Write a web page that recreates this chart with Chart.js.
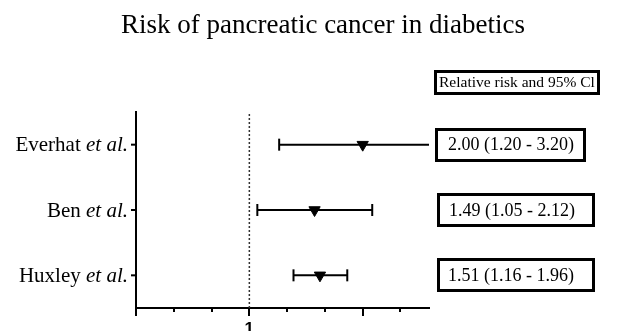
<!DOCTYPE html>
<html>
<head>
<meta charset="utf-8">
<script src="https://cdn.jsdelivr.net/npm/chart.js@4.4.0/dist/chart.umd.min.js"></script>
<style>
  html, body { margin: 0; padding: 0; background: #fff; }
  #wrap { width: 618px; height: 331px; position: relative; }
</style>
</head>
<body>
<div id="wrap"><canvas id="forest_plot"></canvas></div>
<script>
// study rows, top to bottom
var studies = ['Everhat', 'Ben', 'Huxley'];
var rowPos = [3, 2, 1];
// marks as drawn in the picture (log x axis)
var relRisk = [2.00, 1.49, 1.54];
var ciLow = [1.20, 1.05, 1.31];
var ciHigh = [3.20, 2.12, 1.82];
// text in the boxes
var ciText = ['2.00 (1.20 - 3.20)', '1.49 (1.05 - 2.12)', '1.51 (1.16 - 1.96)'];
var headerText = 'Relative risk and 95% Cl';
var titleText = 'Risk of pancreatic cancer in diabetics';
// x axis ticks
var xTicks = [0.5, 0.63, 0.794, 1, 1.26, 1.587, 2, 2.52];
var xMajorTicks = [0.5, 1, 2];
var xTickLabels = ['1'];
var xLabelValues = [1];

var serif = '"Liberation Serif", "Times New Roman", serif';

var datasets = [];
// reference line at RR = 1
datasets.push({
    type: 'line',
    data: [{x: 1, y: 0.5}, {x: 1, y: 3.5}],
    borderColor: '#333',
    borderWidth: 1.5,
    borderDash: [2, 2],
    pointRadius: 0
});
// error bars with caps
studies.forEach(function (s, i) {
    datasets.push({
        type: 'line',
        data: [{x: ciLow[i], y: rowPos[i]}, {x: ciHigh[i], y: rowPos[i]}],
        borderColor: '#000',
        borderWidth: 2,
        pointStyle: 'line',
        rotation: 90,
        pointRadius: 6,
        pointBorderWidth: 2,
        pointBorderColor: '#000'
    });
});
// point estimates
datasets.push({
    type: 'scatter',
    data: studies.map(function (s, i) { return {x: relRisk[i], y: rowPos[i]}; }),
    pointStyle: 'triangle',
    rotation: 180,
    pointRadius: 6.5,
    backgroundColor: '#000',
    borderColor: '#000',
    borderWidth: 1
});

// text, ticks and boxes around the plot
var decor = {
    id: 'decor',
    afterDraw: function (chart) {
        var ctx = chart.ctx;
        var xs = chart.scales.x, ys = chart.scales.y;
        ctx.save();
        ctx.fillStyle = '#000';
        ctx.strokeStyle = '#000';

        // title
        ctx.font = '27px ' + serif;
        ctx.textAlign = 'center';
        ctx.textBaseline = 'alphabetic';
        ctx.fillText(titleText, 323, 33);

        // y labels with italic "et al."
        studies.forEach(function (s, i) {
            var y = ys.getPixelForValue(rowPos[i]);
            ctx.font = '21px ' + serif;
            var w1 = ctx.measureText(s + ' ').width;
            ctx.font = 'italic 21px ' + serif;
            var w2 = ctx.measureText('et al.').width;
            var x0 = chart.chartArea.left - 8 - w1 - w2;
            ctx.textAlign = 'left';
            ctx.textBaseline = 'middle';
            ctx.font = '21px ' + serif;
            ctx.fillText(s + ' ', x0, y + 1);
            ctx.font = 'italic 21px ' + serif;
            ctx.fillText('et al.', x0 + w1, y + 1);
            // y tick
            ctx.lineWidth = 2;
            ctx.beginPath();
            ctx.moveTo(chart.chartArea.left - 5, y);
            ctx.lineTo(chart.chartArea.left, y);
            ctx.stroke();
        });

        // x ticks
        var yb = chart.chartArea.bottom;
        ctx.lineWidth = 2;
        xTicks.forEach(function (v) {
            var x = Math.round(xs.getPixelForValue(v));
            var len = xMajorTicks.indexOf(v) >= 0 ? 8 : 4;
            ctx.beginPath();
            ctx.moveTo(x, yb);
            ctx.lineTo(x, yb + len);
            ctx.stroke();
        });
        ctx.font = 'bold 17px "Liberation Sans", Arial, sans-serif';
        ctx.textAlign = 'center';
        ctx.textBaseline = 'alphabetic';
        xLabelValues.forEach(function (v, i) {
            ctx.fillText(xTickLabels[i], xs.getPixelForValue(v), 334);
        });

        // header box
        ctx.lineWidth = 3;
        ctx.strokeRect(435.5, 71.5, 163, 22);
        ctx.font = '15.5px ' + serif;
        ctx.textAlign = 'left';
        ctx.textBaseline = 'middle';
        ctx.fillText(headerText, 439, 83);

        // value boxes
        var boxLeft = [436.5, 438.5, 438.5];
        var boxWidth = [148, 155, 155];
        var textLeft = [448, 449, 448];
        ctx.font = '18px ' + serif;
        studies.forEach(function (s, i) {
            var y = ys.getPixelForValue(rowPos[i]);
            ctx.strokeRect(boxLeft[i], Math.round(y) - 15.5, boxWidth[i], 31);
            ctx.fillText(ciText[i], textLeft[i], y + 1);
        });
        ctx.restore();
    }
};

var ctx = document.getElementById('forest_plot').getContext('2d');
var forestChart = new Chart(ctx, {
    type: 'scatter',
    data: { datasets: datasets },
    options: {
        responsive: true,
        maintainAspectRatio: false,
        animation: false,
        events: [],
        layout: { padding: { left: 136, right: 189, top: 112, bottom: 23 } },
        plugins: {
            legend: { display: false },
            tooltip: { enabled: false }
        },
        scales: {
            x: {
                type: 'logarithmic',
                min: 0.5,
                max: 3,
                grid: { display: false, drawTicks: false },
                ticks: { display: false },
                border: { display: true, color: '#000', width: 2 }
            },
            y: {
                type: 'linear',
                min: 0.5,
                max: 3.5,
                grid: { display: false, drawTicks: false },
                ticks: { display: false },
                border: { display: true, color: '#000', width: 2 }
            }
        }
    },
    plugins: [decor]
});
</script>
</body>
</html>
